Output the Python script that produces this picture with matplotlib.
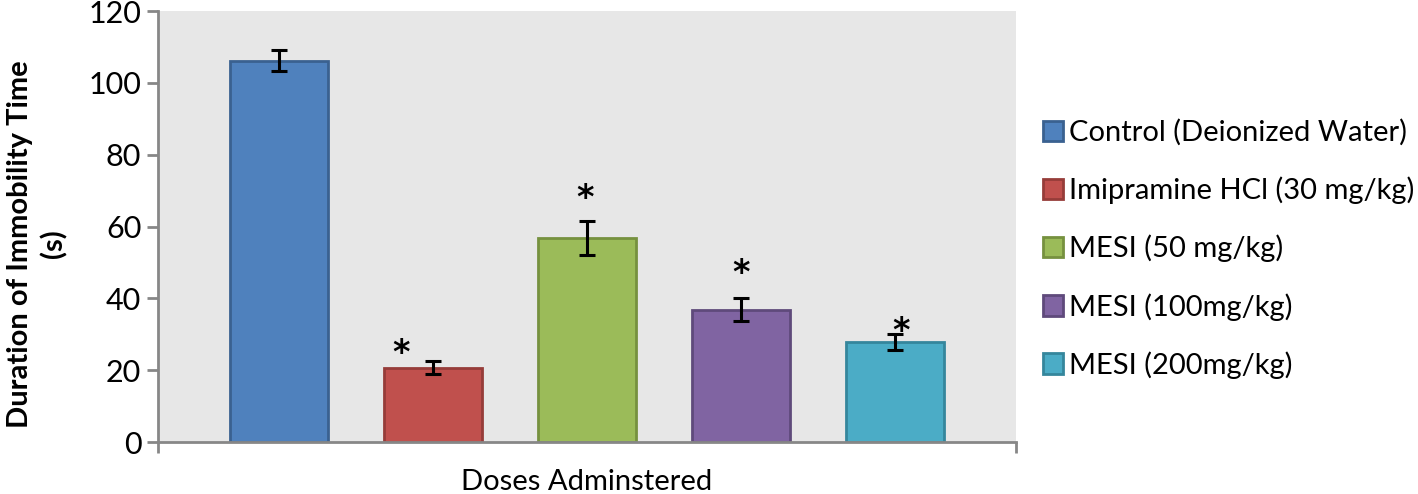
import numpy as np
import matplotlib
matplotlib.use('Agg')
import matplotlib.pyplot as plt

plt.rcParams['font.family'] = ['Lato', 'DejaVu Sans']

groups = ['Control (Deionized Water)', 'Imipramine HCl (30 mg/kg)', 'MESI (50 mg/kg)',
          'MESI (100mg/kg)', 'MESI (200mg/kg)']
means = [106.2, 20.7, 56.8, 36.8, 27.9]
errs = [3.0, 1.8, 4.7, 3.2, 2.2]
face_colors = ['#4F81BD', '#C0504D', '#9BBB59', '#8064A2', '#4BACC6']
edge_colors = ['#3A6190', '#963C39', '#76913F', '#5F4A7B', '#35869C']

# significance markers (x, y in data units)
star_x = [0.79, 1.99, 3.0, 4.04]
star_y = [26.2, 69.4, 48.5, 32.3]

fig = plt.figure(figsize=(14.18, 4.94), dpi=100)
ax = fig.add_axes([0.1114, 0.105, 0.6051, 0.8727])
ax.set_facecolor('#E7E7E7')

x = np.arange(len(means))
for i in range(len(means)):
    ax.bar(x[i], means[i], width=0.635, color=face_colors[i], edgecolor=edge_colors[i],
           linewidth=2, label=groups[i], zorder=2)
ax.errorbar(x, means, yerr=errs, fmt='none', ecolor='black', elinewidth=2.2,
            capsize=5.5, capthick=2.2, zorder=3)

for sx, sy in zip(star_x, star_y):
    ax.text(sx, sy - 1.5, '*', ha='center', va='center', fontsize=24, fontweight='bold',
            family='DejaVu Sans')

ax.set_xlim(-0.786, 4.786)
ax.set_ylim(0, 120)
ax.set_yticks(range(0, 121, 20))
ax.set_xticks([-0.786, 4.786])
ax.set_xticklabels([])
ax.tick_params(axis='y', labelsize=22, length=8, width=2, color='#878787', pad=4)
ax.tick_params(axis='x', length=8, width=2, color='#878787')
for s in ['top', 'right']:
    ax.spines[s].set_visible(False)
for s in ['left', 'bottom']:
    ax.spines[s].set_color('#878787')
    ax.spines[s].set_linewidth(2)

ax.set_ylabel('Duration of Immobility Time\n(s)', fontsize=21, fontweight='bold',
              linespacing=1.3)
ax.yaxis.set_label_coords(-0.106, 0.46)
ax.set_xlabel('Doses Adminstered', fontsize=21, labelpad=8)

fig.legend(loc='center left', bbox_to_anchor=(0.727, 0.496), frameon=False, fontsize=21,
           handlelength=0.7, handleheight=0.7, handletextpad=0.2, labelspacing=1.05,
           borderaxespad=0)

fig.savefig('out.png', dpi=100)
